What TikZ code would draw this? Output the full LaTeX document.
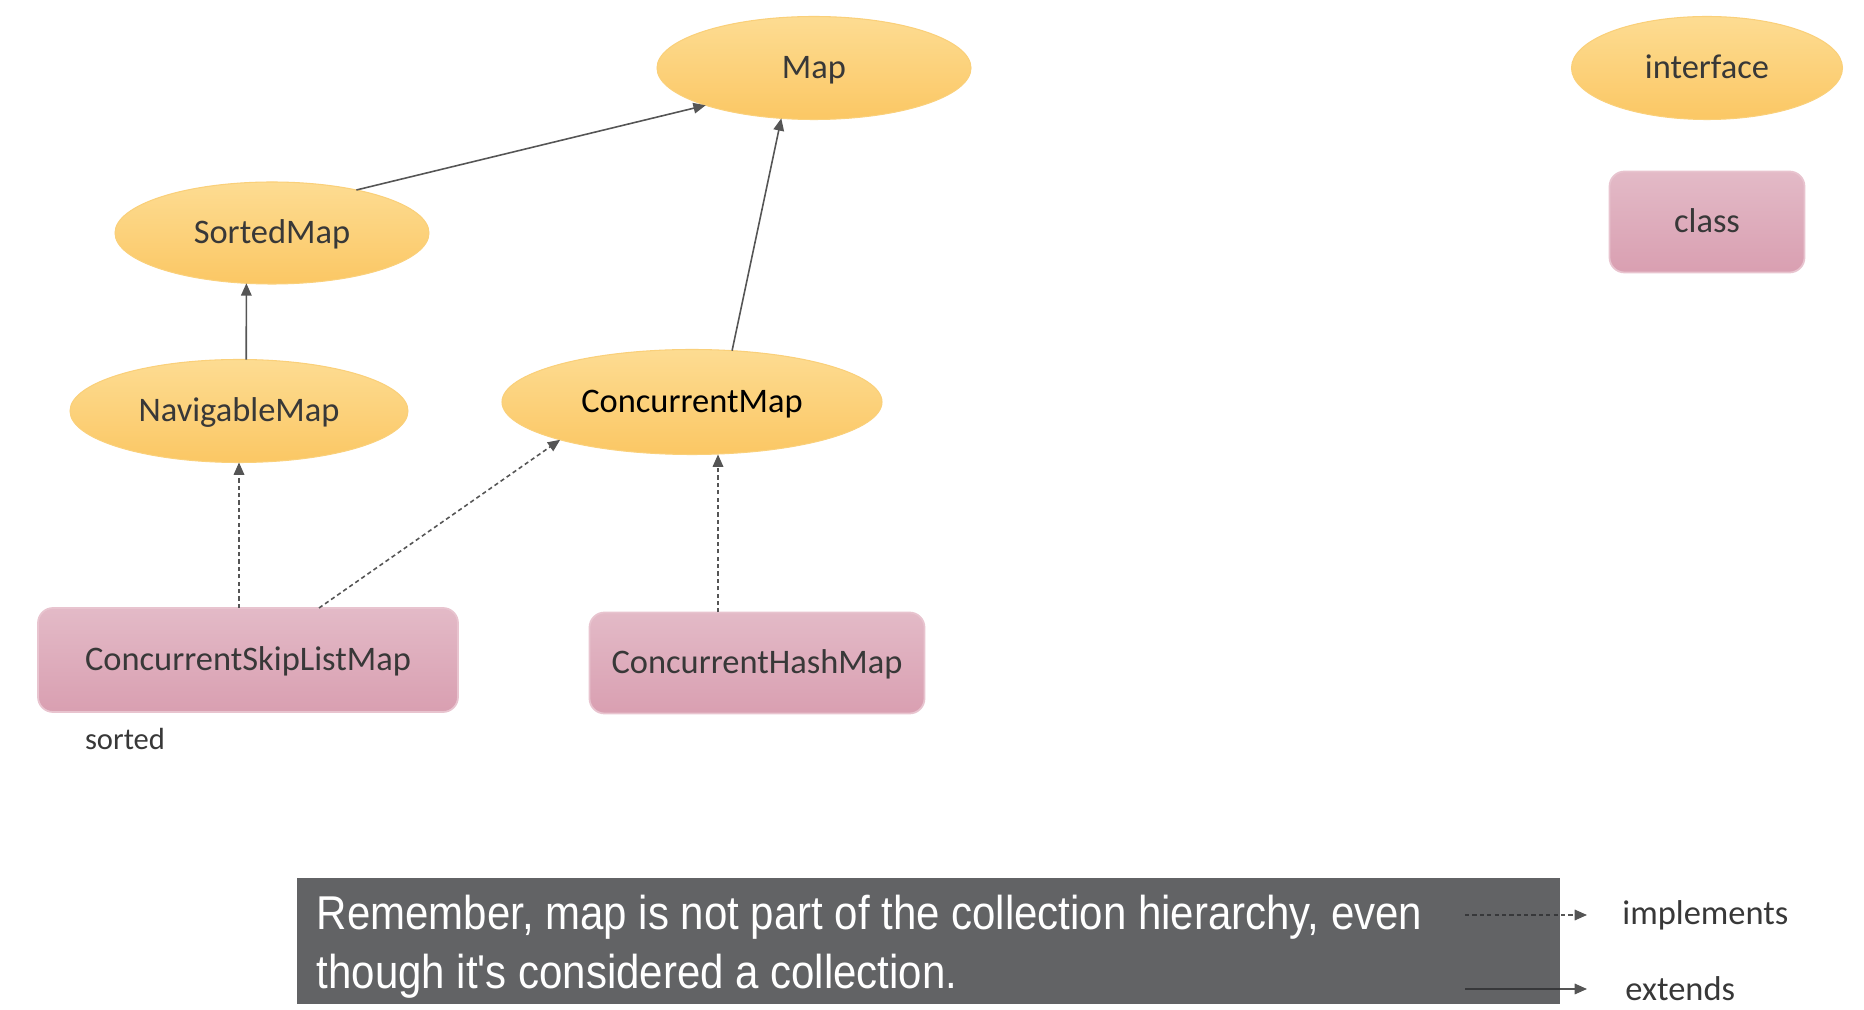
\documentclass[tikz,border=0pt]{standalone}
\usepackage{fontspec}
\setmainfont{Carlito}
\newfontfamily\capfont[FakeStretch=0.885]{Liberation Sans}
\usetikzlibrary{arrows.meta,shapes,shapes.misc}

\definecolor{ifacetop}{HTML}{FDDC92}
\definecolor{ifacebot}{HTML}{FBC764}
\definecolor{ifaceline}{HTML}{FAD07A}
\definecolor{classtop}{HTML}{E3BAC7}
\definecolor{classbot}{HTML}{D99FB1}
\definecolor{classline}{HTML}{E8C4CF}
\definecolor{labelgray}{HTML}{383838}
\definecolor{linkgray}{HTML}{555555}
\definecolor{capfill}{RGB}{46,47,50}

\tikzset{
  iface/.style={ellipse,top color=ifacetop,bottom color=ifacebot,draw=ifaceline,
                line width=0.3pt,inner sep=0pt,outer sep=0pt,text=labelgray,
                text height=0.30cm,text depth=0.08cm,
                font=\fontsize{9.8}{12}\selectfont},
  klass/.style={rounded corners=0.15cm,top color=classtop,bottom color=classbot,
                draw=classline,line width=0.5pt,inner sep=0pt,outer sep=0pt,
                text height=0.30cm,text depth=0.08cm,
                text=labelgray,font=\fontsize{9.8}{12}\selectfont},
  extends/.style={draw=linkgray,line width=0.45pt,-{Triangle[length=3.5pt,width=3pt]}},
  implements/.style={extends,dash pattern=on 1.2pt off 0.9pt},
}

\begin{document}
\begin{tikzpicture}
\useasboundingbox (0,0) rectangle (18.64,10.10);
\begin{scope}[every node/.style={iface}]
    \node[minimum width=3.14cm,minimum height=1.03cm] (Map) at (8.14,9.42) {Map};
    \node[minimum width=3.14cm,minimum height=1.02cm] (SortedMap) at (2.72,7.77) {SortedMap};
    \node[minimum width=3.38cm,minimum height=1.03cm] (NavigableMap) at (2.39,5.99) {NavigableMap};
    \node[minimum width=3.80cm,minimum height=1.05cm,text=black] (ConcurrentMap) at (6.92,6.08) {ConcurrentMap};
    \node[minimum width=2.71cm,minimum height=1.03cm] (Interface) at (17.07,9.42) {interface};
\end{scope}
\begin{scope}[every node/.style={klass}]
    \node[minimum width=4.20cm,minimum height=1.04cm] (SkipListMap) at (2.48,3.50) {ConcurrentSkipListMap};
    \node[minimum width=3.35cm,minimum height=1.01cm] (HashMap) at (7.57,3.47) {ConcurrentHashMap};
    \node[minimum width=1.95cm,minimum height=1.01cm] (Class) at (17.07,7.88) {class};
\end{scope}
\node[text=labelgray,font=\fontsize{8.7}{10}\selectfont] (Sorted) at (1.25,2.71) {sorted};
\coordinate (HashLink) at (7.18,0);

% interface hierarchy
\begin{scope}[every edge/.style={extends}]
    \path (SortedMap.27) edge (Map.199);
    \path (NavigableMap.82) edge (SortedMap.243);
    \path (ConcurrentMap.52) edge (Map.237);
\end{scope}
\begin{scope}[every edge/.style={implements}]
    \path (SkipListMap.north -| NavigableMap.south) edge (NavigableMap.south);
    \path ([xshift=0.71cm]SkipListMap.north) edge (ConcurrentMap.196);
    \path (HashMap.north -| HashLink) edge (ConcurrentMap.south -| HashLink);
\end{scope}

% legend
\node[text=labelgray,font=\fontsize{9.8}{12}\selectfont,anchor=west] (ImplLabel) at (16.10,0.95) {implements};
\node[text=labelgray,font=\fontsize{9.8}{12}\selectfont,anchor=west] (ExtLabel) at (16.13,0.21) {extends};
\coordinate (ImplFrom) at (14.65,0.95);
\coordinate (ExtFrom) at (14.65,0.21);
\draw[implements,shorten >=0.23cm] (ImplFrom) -- (ImplLabel.west);
\draw[extends,shorten >=0.26cm] (ExtFrom) -- (ExtLabel.west);

% subtitle box
\fill[capfill,fill opacity=0.75] (2.97,0.06) rectangle (15.60,1.32);
\node[anchor=north west,align=left,text=white,inner sep=0pt,
      font=\capfont\fontsize{13.5}{16.8}\selectfont] (Caption) at (3.16,1.16)
      {Remember, map is not part of the collection hierarchy, even\\though it's considered a collection.};
\end{tikzpicture}
\end{document}
